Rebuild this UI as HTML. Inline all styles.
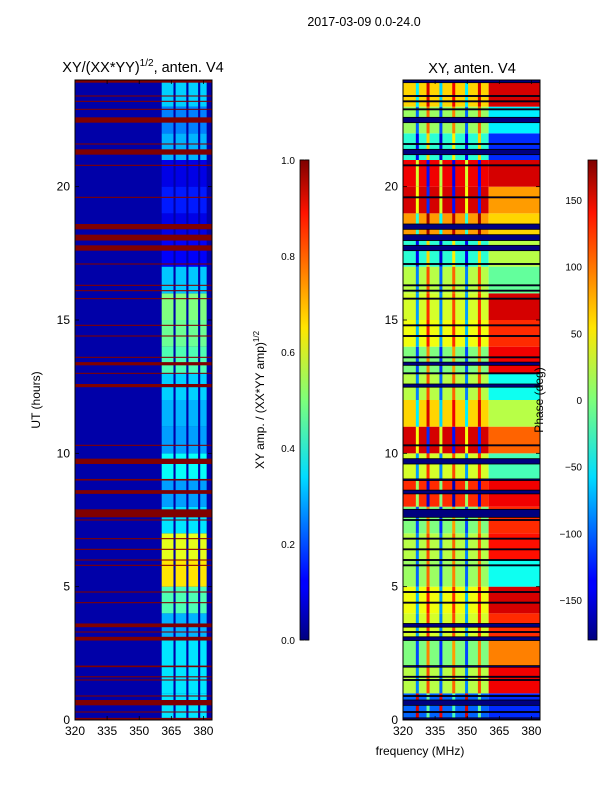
<!DOCTYPE html>
<html><head><meta charset="utf-8"><style>
html,body{margin:0;padding:0;background:#fff;}
svg{display:block;font-family:"Liberation Sans","DejaVu Sans",sans-serif;}
</style></head><body>
<svg id="fig" width="600" height="800" xmlns="http://www.w3.org/2000/svg">
<defs>
<linearGradient id="jet" x1="0" y1="1" x2="0" y2="0">
<stop offset="0" stop-color="#00007f"/><stop offset="0.11" stop-color="#0000ff"/>
<stop offset="0.125" stop-color="#0000ff"/><stop offset="0.34" stop-color="#00dcff"/>
<stop offset="0.5" stop-color="#7dff7a"/><stop offset="0.65" stop-color="#ffe600"/>
<stop offset="0.89" stop-color="#ff1300"/><stop offset="1" stop-color="#7f0000"/>
</linearGradient>
</defs>
<text x="364" y="26" font-size="12.5" text-anchor="middle">2017-03-09 0.0-24.0</text>
<text x="143" y="72" font-size="14.5" text-anchor="middle">XY/(XX*YY)<tspan font-size="10" dy="-6">1/2</tspan><tspan dy="6">, anten. V4</tspan></text>
<text x="472" y="73" font-size="14.5" text-anchor="middle">XY, anten. V4</text>
<g id="left"></g>
<g id="right"></g>
<g id="axes"></g>
<rect x="300" y="160" width="9" height="480" fill="url(#jet)" stroke="#000" stroke-width="0.8"/>
<rect x="588" y="160" width="9" height="480" fill="url(#jet)" stroke="#000" stroke-width="0.8"/>
<text transform="translate(40,400) rotate(-90)" font-size="12" text-anchor="middle">UT (hours)</text>
<text transform="translate(264,400) rotate(-90)" font-size="12" text-anchor="middle">XY amp. / (XX*YY amp)<tspan font-size="8" dy="-5">1/2</tspan></text>
<text transform="translate(543,400) rotate(-90)" font-size="12" text-anchor="middle">Phase (deg)</text>
<text x="420" y="755" font-size="12" text-anchor="middle">frequency (MHz)</text>
</svg>
<script>
// ---- data ----
const utTicks = [0, 5, 10, 15, 20];
const freqTicks = [320, 335, 350, 365, 380];
const ampTicks = [0.0, 0.2, 0.4, 0.6, 0.8, 1.0];
const phaseTicks = [-150, -100, -50, 0, 50, 100, 150];
const hours = [0,1,2,3,4,5,6,7,8,9,10,11,12,13,14,15,16,17,18,19,20,21,22,23];
const ampLowBand = 0.04;
const ampHighBand = [0.35,0.35,0.35,0.3,0.45,0.65,0.6,0.35,0.28,0.38,0.28,0.3,0.33,0.45,0.48,0.5,0.32,0.12,0.1,0.15,0.1,0.3,0.25,0.33];
const ampColumns = [[360.5,366],[367,372],[373,377.5],[378.5,381.5]];
const phaseLow = [-100,20,0,30,40,10,20,0,120,30,150,60,20,0,40,30,20,-30,80,150,140,-30,10,60];
const phaseHigh = [-120,140,90,120,150,-40,130,120,140,-20,100,20,-40,140,120,150,-10,20,60,80,150,-120,-50,150];
const stripeFreqs = [326,331,337,343,349,355];
const stripeDelta = [-110,90,-120,80,-110,90];
const flags = [[0.02,0.08],[0.28,0.32],[0.55,0.75],[0.88,0.92],[1.48,1.52],[1.6,1.64],[1.98,2.04],[2.98,3.12],[3.28,3.32],[3.48,3.62],[4.38,4.42],[4.78,4.82],[5.78,5.82],[5.98,6.02],[6.38,6.42],[6.78,6.82],[7.48,7.52],[7.6,7.9],[8.48,8.62],[8.98,9.04],[9.6,9.8],[10.28,10.32],[12.48,12.6],[12.98,13.02],[13.3,13.42],[13.58,13.62],[14.38,14.42],[14.78,14.82],[15.78,15.82],[16.08,16.12],[16.28,16.32],[17.08,17.12],[17.6,17.8],[17.98,18.2],[18.4,18.6],[19.58,19.62],[20.78,20.82],[21.2,21.4],[21.58,21.62],[22.4,22.6],[22.88,22.92],[23.18,23.22],[23.38,23.42],[23.9,24]];

// ---- scales ----
const T=80,B=720,PW=137;
const yUT = u => B - u*(B-T)/24;
const xF = (x0,f) => x0 + (f-320)*PW/64;
function jet(v){v=Math.max(0,Math.min(1,v));
  const r=Math.min(4*v-1.5,-4*v+4.5),g=Math.min(4*v-0.5,-4*v+3.5),b=Math.min(4*v+0.5,-4*v+2.5);
  const c=t=>Math.round(255*Math.max(0,Math.min(1,t)));return `rgb(${c(r)},${c(g)},${c(b)})`;}
const ph2v = p => {p=((p+180)%360+360)%360-180;return (p+180)/360;};
const NS="http://www.w3.org/2000/svg";
function R(g,x,y,w,h,fill){const r=document.createElementNS(NS,'rect');
  r.setAttribute('x',x);r.setAttribute('y',y);r.setAttribute('width',w);r.setAttribute('height',h);r.setAttribute('fill',fill);g.appendChild(r);return r;}

// ---- left amplitude ----
const L=document.getElementById('left');
const LX=75;
R(L,LX,T,PW,B-T,jet(ampLowBand));
hours.forEach((h,i)=>{
  const y0=yUT(h+1),y1=yUT(h);
  ampColumns.forEach(c=>{
    const r=R(L,xF(LX,c[0]),y0,xF(LX,c[1])-xF(LX,c[0]),y1-y0,jet(ampHighBand[i]));
    
    
  });
});
flags.forEach(f=>{const r=R(L,LX,yUT(f[1]),PW,Math.max(1,yUT(f[0])-yUT(f[1])),'#800000');
  
  });

// ---- right phase ----
const P=document.getElementById('right');
const RX=403;
hours.forEach((h,i)=>{
  const y0=yUT(h+1),y1=yUT(h);
  let r=R(P,RX,y0,xF(RX,360)-RX,y1-y0,jet(ph2v(phaseLow[i])));
  
  
  r=R(P,xF(RX,360),y0,xF(RX,384)-xF(RX,360),y1-y0,jet(ph2v(phaseHigh[i])));
  
  
  stripeFreqs.forEach((f,k)=>{
    const s=R(P,xF(RX,f),y0,xF(RX,f+1.4)-xF(RX,f),y1-y0,jet(ph2v(phaseLow[i]+stripeDelta[k])));
    
    
  });
});
flags.forEach(f=>{const r=R(P,RX,yUT(f[1]),PW,Math.max(1,yUT(f[0])-yUT(f[1])),'#00007f');
  r.setAttribute('stroke','#000');r.setAttribute('stroke-width','0.8');
  
  });

// ---- axes ----
const A=document.getElementById('axes');
function line(x1,y1,x2,y2){const l=document.createElementNS(NS,'line');
  l.setAttribute('x1',x1);l.setAttribute('y1',y1);l.setAttribute('x2',x2);l.setAttribute('y2',y2);
  l.setAttribute('stroke','#000');l.setAttribute('stroke-width','0.8');A.appendChild(l);return l;}
function text(x,y,s,anchor,fs){const t=document.createElementNS(NS,'text');
  t.setAttribute('x',x);t.setAttribute('y',y);t.setAttribute('text-anchor',anchor);t.setAttribute('font-size',fs||12);
  t.textContent=s;A.appendChild(t);return t;}
[LX,RX].forEach(x0=>{
  const fr=R(A,x0,T,PW,B-T,'none');fr.setAttribute('stroke','#000');fr.setAttribute('stroke-width','1');
  
  
  utTicks.forEach(u=>{const y=yUT(u);line(x0,y,x0+4,y);line(x0+PW,y,x0+PW-4,y);
    const t=text(x0-5,y+4,String(u),'end');
    
    });
  freqTicks.forEach(f=>{const x=xF(x0,f);line(x,B,x,B-4);line(x,T,x,T+4);
    const t=text(x,B+15,String(f),'middle');
    
    });
});
ampTicks.forEach(v=>{const y=640-v*480;line(300,y,304,y);line(309,y,305,y);
  const t=text(295,y+4,v.toFixed(1),'end',10);
  
  });
phaseTicks.forEach(v=>{const y=640-(v+180)/360*480;line(588,y,592,y);line(597,y,593,y);
  const t=text(582,y+4,v<0?'\u2212'+(-v):String(v),'end',10);
  
  });
</script>
</body></html>
